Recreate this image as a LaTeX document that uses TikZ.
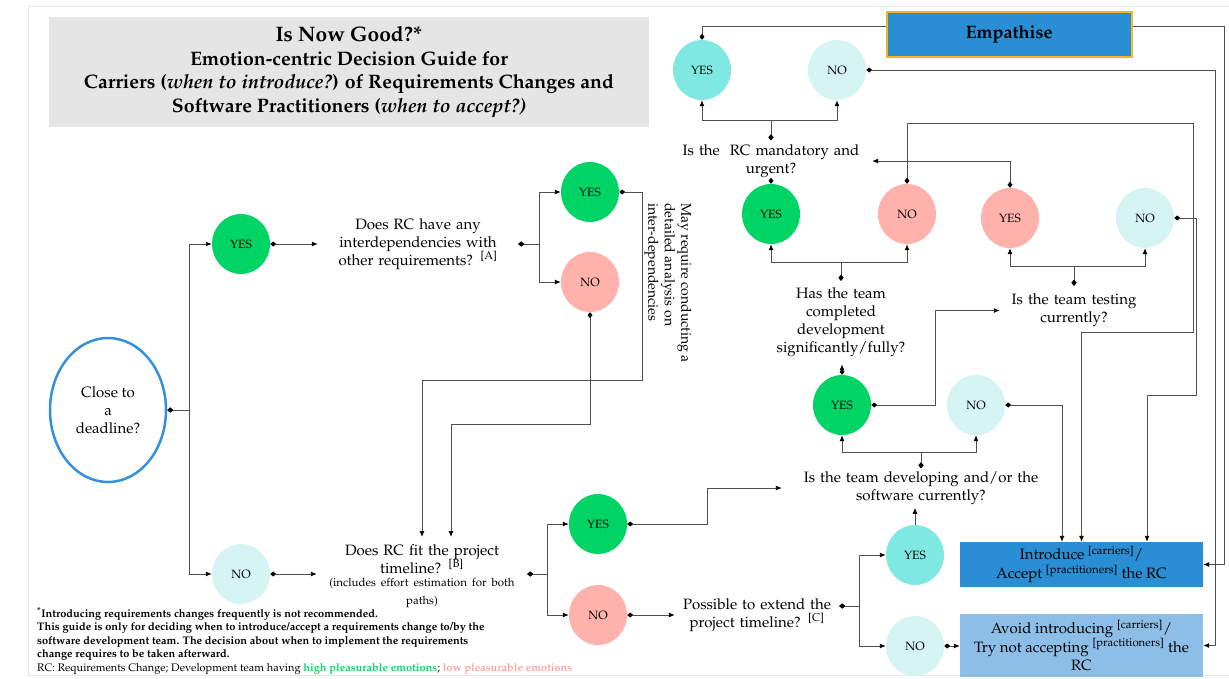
\documentclass[tikz,border=0pt]{standalone}
\usepackage[T1]{fontenc}
\usepackage{mathpazo}
\usepackage{tikz}
\usetikzlibrary{arrows.meta,shapes.geometric,positioning}
\definecolor{hiC}{RGB}{0,212,100}
\definecolor{loC}{RGB}{255,178,172}
\definecolor{cyC}{RGB}{128,232,226}
\definecolor{pcC}{RGB}{214,244,244}
\definecolor{boxC}{RGB}{42,142,212}
\definecolor{avC}{RGB}{140,190,232}
\definecolor{goldC}{RGB}{244,184,30}
\definecolor{ttlC}{RGB}{229,229,229}
\definecolor{dlC}{RGB}{52,144,222}
\definecolor{linC}{RGB}{80,80,80}
\definecolor{hiT}{RGB}{30,205,100}
\definecolor{loT}{RGB}{255,165,165}
\tikzset{>={Latex[length=6pt,width=5pt,color=black]},
         link/.style={draw=linC, line width=0.9pt},
         con/.style={link, {Diamond[length=6pt,width=5pt,color=black]}->},
         dot/.style={link, {Diamond[length=6pt,width=5pt,color=black]}-},
         arr/.style={link, ->},
         ans/.style={ellipse, minimum width=58pt, minimum height=60pt, inner sep=0pt, font=\fontsize{12}{12}\selectfont},
         hi/.style={ans, fill=hiC}, lo/.style={ans, fill=loC},
         cy/.style={ans, fill=cyC}, pc/.style={ans, fill=pcC},
         qn/.style={align=center, inner xsep=0pt, font=\fontsize{15}{18}\selectfont},
         act/.style={align=center, minimum width=243pt, font=\fontsize{15}{18.5}\selectfont}}
\begin{document}
\begin{tikzpicture}[x=1pt,y=-1pt]
	\useasboundingbox (0,0) rectangle (1229,678);
	\draw[gray!18, line width=1pt] (28,6) rectangle (1229,675);

	\node[fill=ttlC, minimum width=600pt, minimum height=110pt, align=center, font=\bfseries\fontsize{19.5}{23.5}\selectfont] (ttl) at (349,72)
	  {{\fontsize{21}{23.5}\selectfont Is Now Good?*}\\Emotion-centric Decision Guide for\\Carriers (\textit{when to introduce?}) of Requirements Changes and\\Software Practitioners (\textit{when to accept?)}};
	\node[fill=boxC, draw=goldC, line width=2pt, minimum width=245pt, minimum height=45pt, font=\bfseries\fontsize{18}{18}\selectfont] (emp) at (1009,34) {Empathise};
	\node[act, fill=boxC, minimum height=45pt] (intro) at (1081.5,564.5) {Introduce \textsuperscript{[carriers]}/\\Accept \textsuperscript{[practitioners]} the RC};
	\node[act, fill=avC, minimum height=63pt] (avoid) at (1081.5,645.5) {Avoid introducing \textsuperscript{[carriers]}/\\Try not accepting \textsuperscript{[practitioners]} the\\RC};

	\node[draw=dlC, line width=2.5pt, ellipse, minimum width=116pt, minimum height=144pt, inner sep=0pt, align=center, font=\fontsize{15}{18}\selectfont] (dl) at (108,410) {Close to\\a\\deadline?};
	\node[qn, text width=200pt] (qdep) at (418,244) {Does RC have any\\interdependencies with\\other requirements? \textsuperscript{[A]}};
	\node[qn, text width=210pt, anchor=north, inner ysep=7pt] (qfit) at (422,537) {Does RC fit the project\\timeline? \textsuperscript{[B]}\\{\fontsize{11.5}{13}\selectfont (includes effort estimation for both\\paths)}};
	\node[qn, text width=164pt] (qext) at (757,615) {Possible to extend the\\project timeline? \textsuperscript{[C]}};
	\node[qn, text width=278pt, inner ysep=3pt] (qdev) at (921,488) {Is the team developing and/or the\\software currently?};
	\node[qn, text width=150pt, inner ysep=7pt] (qcomp) at (841,322.5) {Has the team\\completed\\development\\significantly/fully?};
	\node[qn, text width=148pt, inner ysep=8pt] (qtest) at (1074,310.5) {Is the team testing\\currently?};
	\node[qn, text width=202pt, inner ysep=4pt] (qmand) at (771,161) {Is the\ \ RC mandatory and\\urgent?};
	\node[rotate=-90, align=left, font=\fontsize{14}{16.5}\selectfont] (note) at (668,283) {May require conducting a\\detailed analysis on\\inter-dependencies};

	\node[hi] (y1) at (241,244) {YES};
	\node[pc] (n1) at (241,574) {NO};
	\node[hi] (y2) at (590,192) {YES};
	\node[lo] (n2) at (590,282) {NO};
	\node[hi] (y3) at (598,524) {YES};
	\node[lo] (n3) at (598,615) {NO};
	\node[cy] (y4) at (915,555) {YES};
	\node[pc] (n4) at (915,646) {NO};
	\node[hi] (y5) at (842,405) {YES};
	\node[pc] (n5) at (976,405) {NO};
	\node[hi] (y6) at (771,214) {YES};
	\node[lo] (n6) at (907,214) {NO};
	\node[lo] (y7) at (1010,218) {YES};
	\node[pc] (n7) at (1145,218) {NO};
	\node[cy] (y8) at (702,70) {YES};
	\node[pc] (n8) at (837,70) {NO};

	\draw[con] (dl.east) -- ++(22,0) |- (y1.west);
	\draw[con] (dl.east) -- ++(22,0) |- (n1.west);
	\draw[con] (y1.east) -- (y1.east -| qdep.west);
	\draw[con] (n1.east) -- (n1.east -| qfit.west);
	\draw[con] (qdep.east) -- ++(21,0) |- (y2.west);
	\draw[con] (qdep.east) -- ++(21,0) |- (n2.west);
	\draw[con] (y2.east) -- ++(23,0) -- ++(0,188) -| (qfit.north);
	\draw[con] (n2.south) -- ++(0,112) -| ([xshift=29pt]qfit.north);
	\draw[con] (qfit.east |- n1) -- ++(20,0) |- (y3.west);
	\draw[con] (qfit.east |- n1) -- ++(20,0) |- (n3.west);
	\draw[con] (y3.east) -- ++(80,0) |- (qdev.west);
	\draw[con] (n3.east) -- (n3.east -| qext.west);
	\draw[con] ([yshift=9pt]qext.east) -- ++(20,0) |- (y4.west);
	\draw[con] ([yshift=9pt]qext.east) -- ++(20,0) |- (n4.west);
	\draw[arr] (y4.north) -- (y4.north |- qdev.south);
	\draw[con] (n4.east) -- (n4.east -| avoid.west);
	\draw[con] (qdev.north) -- ++(0,-16) -| (y5.south);
	\draw[con] (qdev.north) -- ++(0,-16) -| (n5.south);
	\draw[con] (y5.north) -- (y5.north |- qcomp.south);
	\draw[con] (y5.east) -- ++(64,0) |- (qtest.west);
	\draw[con] (n5.east) -| ([xshift=-19.5pt]intro.north);
	\draw[con] (qcomp.north) -- ++(0,-18) -| (y6.south);
	\draw[con] (qcomp.north) -- ++(0,-18) -| (n6.south);
	\draw[dot] (y6.north) -- (qmand.south);
	\draw[con] (n6.north) -- ++(0,-60) -- ++(286,0) -- ++(0,209) -| (intro.north);
	\draw[con] (qtest.north) -- ++(0,-19) -| (y7.south);
	\draw[con] (qtest.north) -- ++(0,-19) -| (n7.south);
	\draw[con] (y7.north) |- (qmand.east);
	\draw[con] (n7.east) -- ++(22,0) -- ++(0,177) -| ([xshift=65.5pt]intro.north);
	\draw[con] (qmand.north) -- ++(0,-20) -| (y8.south);
	\draw[con] (qmand.north) -- ++(0,-20) -| (n8.south);
	\draw[dot] (y8.north) |- ([yshift=8pt]emp.west);
	\draw[arr] ([yshift=8pt]emp.east) -- ++(92,0) |- (intro.east);
	\draw[con] (n8.east) -- ++(349,0) |- (avoid.east);

	\node[anchor=north west, inner sep=0pt, align=left, font=\bfseries\fontsize{11}{13.5}\selectfont] (foot) at (37,607)
	  {\textsuperscript{*}Introducing requirements changes frequently is not recommended.\\This guide is only for deciding when to introduce/accept a requirements change to/by the\\software development team. The decision about when to implement the requirements\\change requires to be taken afterward.\\{\mdseries RC: Requirements Change; Development team having} \textcolor{hiT}{high pleasurable emotions}{\mdseries;} \textcolor{loT}{low pleasurable emotions}};
\end{tikzpicture}
\end{document}
